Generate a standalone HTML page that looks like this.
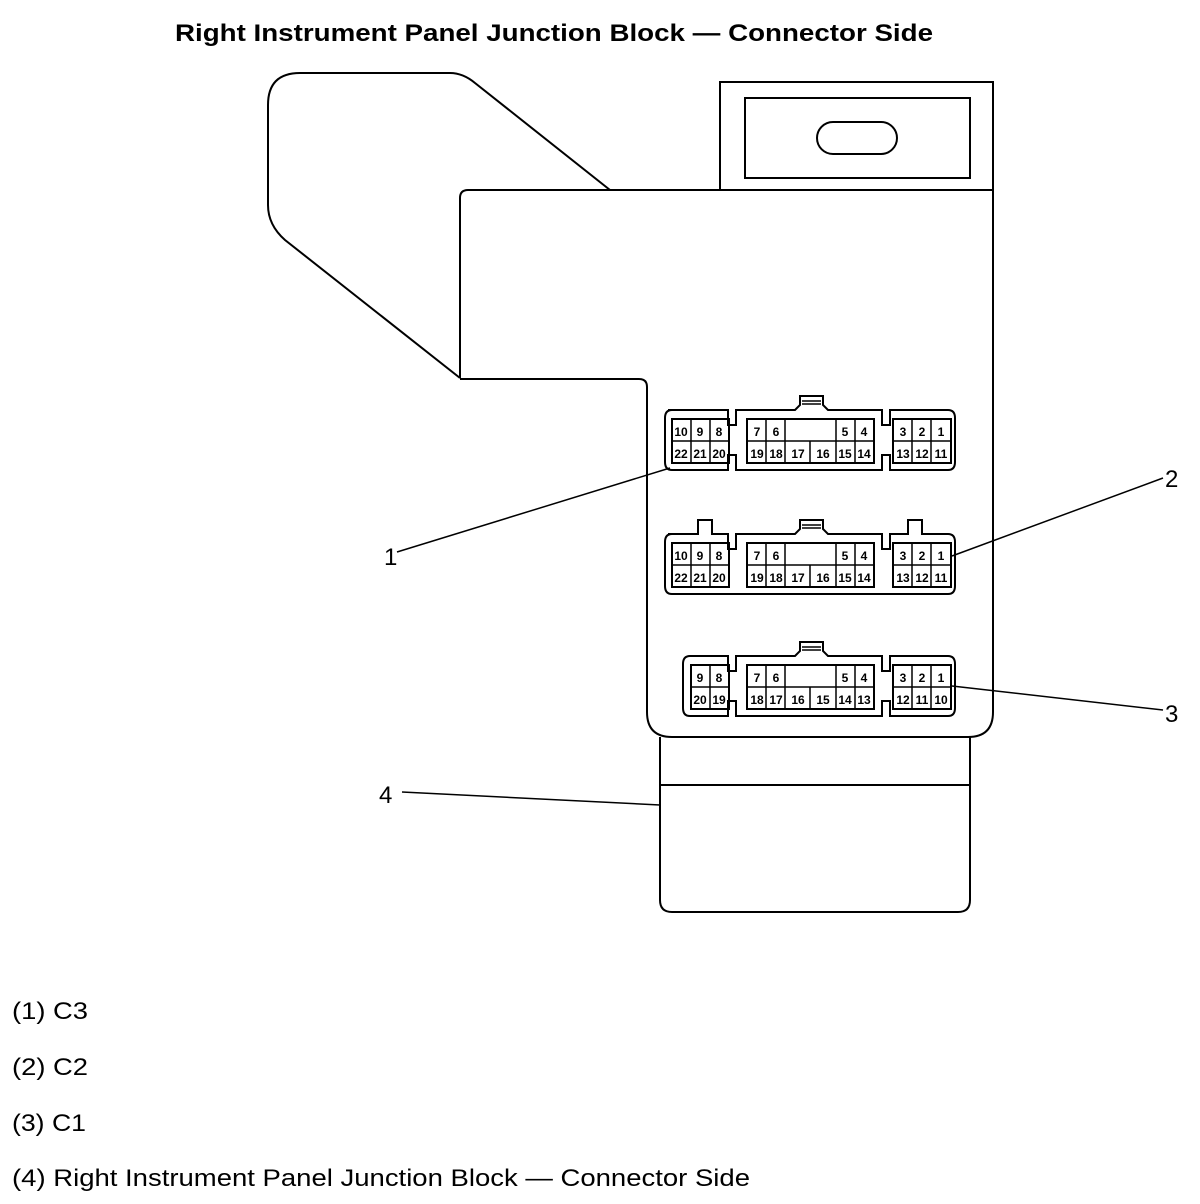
<!DOCTYPE html>
<html><head><style>
body{margin:0;background:#fff;}
svg{display:block;}
</style></head><body>
<svg width="1200" height="1204" viewBox="0 0 1200 1204" xmlns="http://www.w3.org/2000/svg" font-family="Liberation Sans, Arial, sans-serif">
<text x="175" y="41" font-size="24" font-weight="bold" textLength="758" lengthAdjust="spacingAndGlyphs">Right Instrument Panel Junction Block —  Connector Side</text>
<g fill="none" stroke="#000" stroke-width="2">
<path d="M268,105 Q268,73 300,73 L450,73 Q463,73 475,83 L610,190"/>
<path d="M268,105 L268,205 Q268,225 285,240 L460,378"/>
<path d="M460,378 L460,198 Q460,190 468,190 L993,190 L993,712 Q993,737 968,737 L672,737 Q647,737 647,712 L647,387 Q647,379 639,379 L460,379"/>
<path d="M720,190 L720,82 L993,82 L993,190"/>
<rect x="745" y="98" width="225" height="80"/>
<rect x="817" y="122" width="80" height="32" rx="16"/>
<path d="M660,737 L660,900 Q660,912 672,912 L958,912 Q970,912 970,900 L970,737"/>
<line x1="660" y1="785" x2="970" y2="785"/>
<line x1="397" y1="552" x2="670" y2="468" stroke-width="1.5"/>
<line x1="1163" y1="478" x2="952" y2="556" stroke-width="1.5"/>
<line x1="952" y1="686" x2="1163" y2="710" stroke-width="1.5"/>
<line x1="402" y1="792" x2="660" y2="805" stroke-width="1.5"/>
</g>
<g font-size="24">
<text x="384" y="565">1</text>
<text x="1165" y="487">2</text>
<text x="1165" y="722">3</text>
<text x="379" y="803">4</text>
</g>

<g fill="none" stroke="#000" stroke-width="2">
<path d="M668,410 L728,410 L728,425 L736,425 L736,410 L795,410 L800,405 L800,396 L823,396 L823,405 L828,410 L882,410 L882,425 L890,425 L890,410 L948,410 Q955,410 955,418 L955,462 Q955,470 948,470 L890,470 L890,455 L882,455 L882,470 L736,470 L736,455 L728,455 L728,470 L672,470 Q665,470 665,462 L665,418 Q665,410 672,410Z"/>
<rect x="672" y="419" width="57" height="44"/>
<rect x="747" y="419" width="127" height="44"/>
<rect x="893" y="419" width="58" height="44"/>
</g>
<g fill="none" stroke="#000" stroke-width="2">
<path d="M668,534 L698,534 L698,520 L712,520 L712,534 L728,534 L728,549 L736,549 L736,534 L795,534 L800,529 L800,520 L823,520 L823,529 L828,534 L882,534 L882,549 L890,549 L890,534 L908,534 L908,520 L922,520 L922,534 L948,534 Q955,534 955,542 L955,586 Q955,594 948,594 L672,594 Q665,594 665,586 L665,542 Q665,534 672,534Z"/>
<rect x="672" y="543" width="57" height="44"/>
<rect x="747" y="543" width="127" height="44"/>
<rect x="893" y="543" width="58" height="44"/>
</g>
<g fill="none" stroke="#000" stroke-width="2">
<path d="M690,656 L728,656 L728,671 L736,671 L736,656 L795,656 L800,651 L800,642 L823,642 L823,651 L828,656 L882,656 L882,671 L890,671 L890,656 L948,656 Q955,656 955,664 L955,708 Q955,716 948,716 L890,716 L890,701 L882,701 L882,716 L736,716 L736,701 L728,701 L728,716 L690,716 Q683,716 683,708 L683,664 Q683,656 690,656Z"/>
<rect x="691" y="665" width="38" height="44"/>
<rect x="747" y="665" width="127" height="44"/>
<rect x="893" y="665" width="58" height="44"/>
</g>
<g stroke="#000" stroke-width="1.5">
<line x1="672" y1="441" x2="729" y2="441"/><line x1="691" y1="419" x2="691" y2="463"/><line x1="710" y1="419" x2="710" y2="463"/>
<line x1="747" y1="441" x2="874" y2="441"/><line x1="766" y1="419" x2="766" y2="463"/><line x1="785" y1="419" x2="785" y2="463"/><line x1="810" y1="441" x2="810" y2="463"/><line x1="836" y1="419" x2="836" y2="463"/><line x1="855" y1="419" x2="855" y2="463"/>
<line x1="893" y1="441" x2="951" y2="441"/><line x1="912" y1="419" x2="912" y2="463"/><line x1="931" y1="419" x2="931" y2="463"/>
<line x1="672" y1="565" x2="729" y2="565"/><line x1="691" y1="543" x2="691" y2="587"/><line x1="710" y1="543" x2="710" y2="587"/>
<line x1="747" y1="565" x2="874" y2="565"/><line x1="766" y1="543" x2="766" y2="587"/><line x1="785" y1="543" x2="785" y2="587"/><line x1="810" y1="565" x2="810" y2="587"/><line x1="836" y1="543" x2="836" y2="587"/><line x1="855" y1="543" x2="855" y2="587"/>
<line x1="893" y1="565" x2="951" y2="565"/><line x1="912" y1="543" x2="912" y2="587"/><line x1="931" y1="543" x2="931" y2="587"/>
<line x1="691" y1="687" x2="729" y2="687"/><line x1="710" y1="665" x2="710" y2="709"/>
<line x1="747" y1="687" x2="874" y2="687"/><line x1="766" y1="665" x2="766" y2="709"/><line x1="785" y1="665" x2="785" y2="709"/><line x1="810" y1="687" x2="810" y2="709"/><line x1="836" y1="665" x2="836" y2="709"/><line x1="855" y1="665" x2="855" y2="709"/>
<line x1="893" y1="687" x2="951" y2="687"/><line x1="912" y1="665" x2="912" y2="709"/><line x1="931" y1="665" x2="931" y2="709"/>
<line x1="802" y1="401" x2="821" y2="401"/><line x1="802" y1="404" x2="821" y2="404"/>
<line x1="802" y1="525" x2="821" y2="525"/><line x1="802" y1="528" x2="821" y2="528"/>
<line x1="802" y1="647" x2="821" y2="647"/><line x1="802" y1="650" x2="821" y2="650"/>
</g>
<g font-size="12" font-weight="bold" text-anchor="middle">
<text x="681" y="436">10</text><text x="700" y="436">9</text><text x="719" y="436">8</text>
<text x="681" y="458">22</text><text x="700" y="458">21</text><text x="719" y="458">20</text>
<text x="757" y="436">7</text><text x="776" y="436">6</text><text x="845" y="436">5</text><text x="864" y="436">4</text>
<text x="757" y="458">19</text><text x="776" y="458">18</text><text x="798" y="458">17</text><text x="823" y="458">16</text><text x="845" y="458">15</text><text x="864" y="458">14</text>
<text x="903" y="436">3</text><text x="922" y="436">2</text><text x="941" y="436">1</text>
<text x="903" y="458">13</text><text x="922" y="458">12</text><text x="941" y="458">11</text>
<text x="681" y="560">10</text><text x="700" y="560">9</text><text x="719" y="560">8</text>
<text x="681" y="582">22</text><text x="700" y="582">21</text><text x="719" y="582">20</text>
<text x="757" y="560">7</text><text x="776" y="560">6</text><text x="845" y="560">5</text><text x="864" y="560">4</text>
<text x="757" y="582">19</text><text x="776" y="582">18</text><text x="798" y="582">17</text><text x="823" y="582">16</text><text x="845" y="582">15</text><text x="864" y="582">14</text>
<text x="903" y="560">3</text><text x="922" y="560">2</text><text x="941" y="560">1</text>
<text x="903" y="582">13</text><text x="922" y="582">12</text><text x="941" y="582">11</text>
<text x="700" y="682">9</text><text x="719" y="682">8</text>
<text x="700" y="704">20</text><text x="719" y="704">19</text>
<text x="757" y="682">7</text><text x="776" y="682">6</text><text x="845" y="682">5</text><text x="864" y="682">4</text>
<text x="757" y="704">18</text><text x="776" y="704">17</text><text x="798" y="704">16</text><text x="823" y="704">15</text><text x="845" y="704">14</text><text x="864" y="704">13</text>
<text x="903" y="682">3</text><text x="922" y="682">2</text><text x="941" y="682">1</text>
<text x="903" y="704">12</text><text x="922" y="704">11</text><text x="941" y="704">10</text>
</g>
<g font-size="24">
<text x="12" y="1019" textLength="76" lengthAdjust="spacingAndGlyphs">(1) C3</text>
<text x="12" y="1075" textLength="76" lengthAdjust="spacingAndGlyphs">(2) C2</text>
<text x="12" y="1131" textLength="74" lengthAdjust="spacingAndGlyphs">(3) C1</text>
<text x="12" y="1186" textLength="738" lengthAdjust="spacingAndGlyphs">(4) Right Instrument Panel Junction Block — Connector Side</text>
</g>
</svg>
</body></html>
